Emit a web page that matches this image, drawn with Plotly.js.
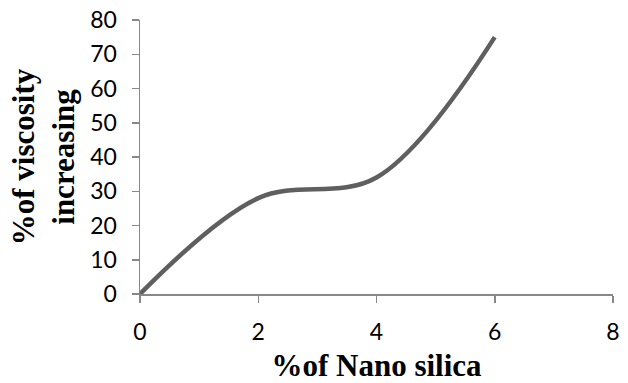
<!DOCTYPE html>
<html>
<head>
<meta charset="utf-8">
<script src="https://cdn.plot.ly/plotly-3.0.1.min.js"></script>
<style>html,body{margin:0;padding:0;background:#fff;}#chart{width:628px;height:383px;}</style>
</head>
<body>
<div id="chart"></div>
<script>
const nanoSilica = [0, 2, 4, 6];
const viscosityIncrease = [0, 28, 34, 75];
const xTicks = [0, 2, 4, 6, 8];
const yTicks = [0, 10, 20, 30, 40, 50, 60, 70, 80];

const trace = {
  x: nanoSilica,
  y: viscosityIncrease,
  type: 'scatter',
  mode: 'lines',
  line: {shape: 'spline', smoothing: 1, color: '#5f5f5f', width: 4.5},
  hoverinfo: 'none'
};

const axisCommon = {
  showgrid: false,
  zeroline: false,
  showline: true,
  linecolor: '#888888',
  linewidth: 1.5,
  ticks: 'outside',
  ticklen: 7,
  tickwidth: 1.5,
  tickcolor: '#888888',
  ticklabelstandoff: 10,
  tickfont: {family: 'Lato, "Open Sans", sans-serif', size: 23, color: '#000'},
  fixedrange: true
};

const titleFont = '"Liberation Serif", "Times New Roman", serif';

const layout = {
  width: 628,
  height: 383,
  margin: {l: 140, r: 15, t: 20, b: 89},
  paper_bgcolor: '#fff',
  plot_bgcolor: '#fff',
  showlegend: false,
  xaxis: Object.assign({}, axisCommon, {
    range: [0, 8],
    tickvals: xTicks,
    ticktext: xTicks.map(String),
    title: {text: '%of Nano silica', font: {family: titleFont, size: 31, color: '#000', weight: 'bold'}, standoff: 14}
  }),
  yaxis: Object.assign({}, axisCommon, {
    range: [0, 80],
    tickvals: yTicks,
    ticktext: yTicks.map(String),
    title: {text: '%of viscosity<br>increasing', font: {family: titleFont, size: 31, color: '#000', weight: 'bold'}, standoff: 6}
  })
};

Plotly.newPlot('chart', [trace], layout, {staticPlot: true, displayModeBar: false});
</script>
</body>
</html>
